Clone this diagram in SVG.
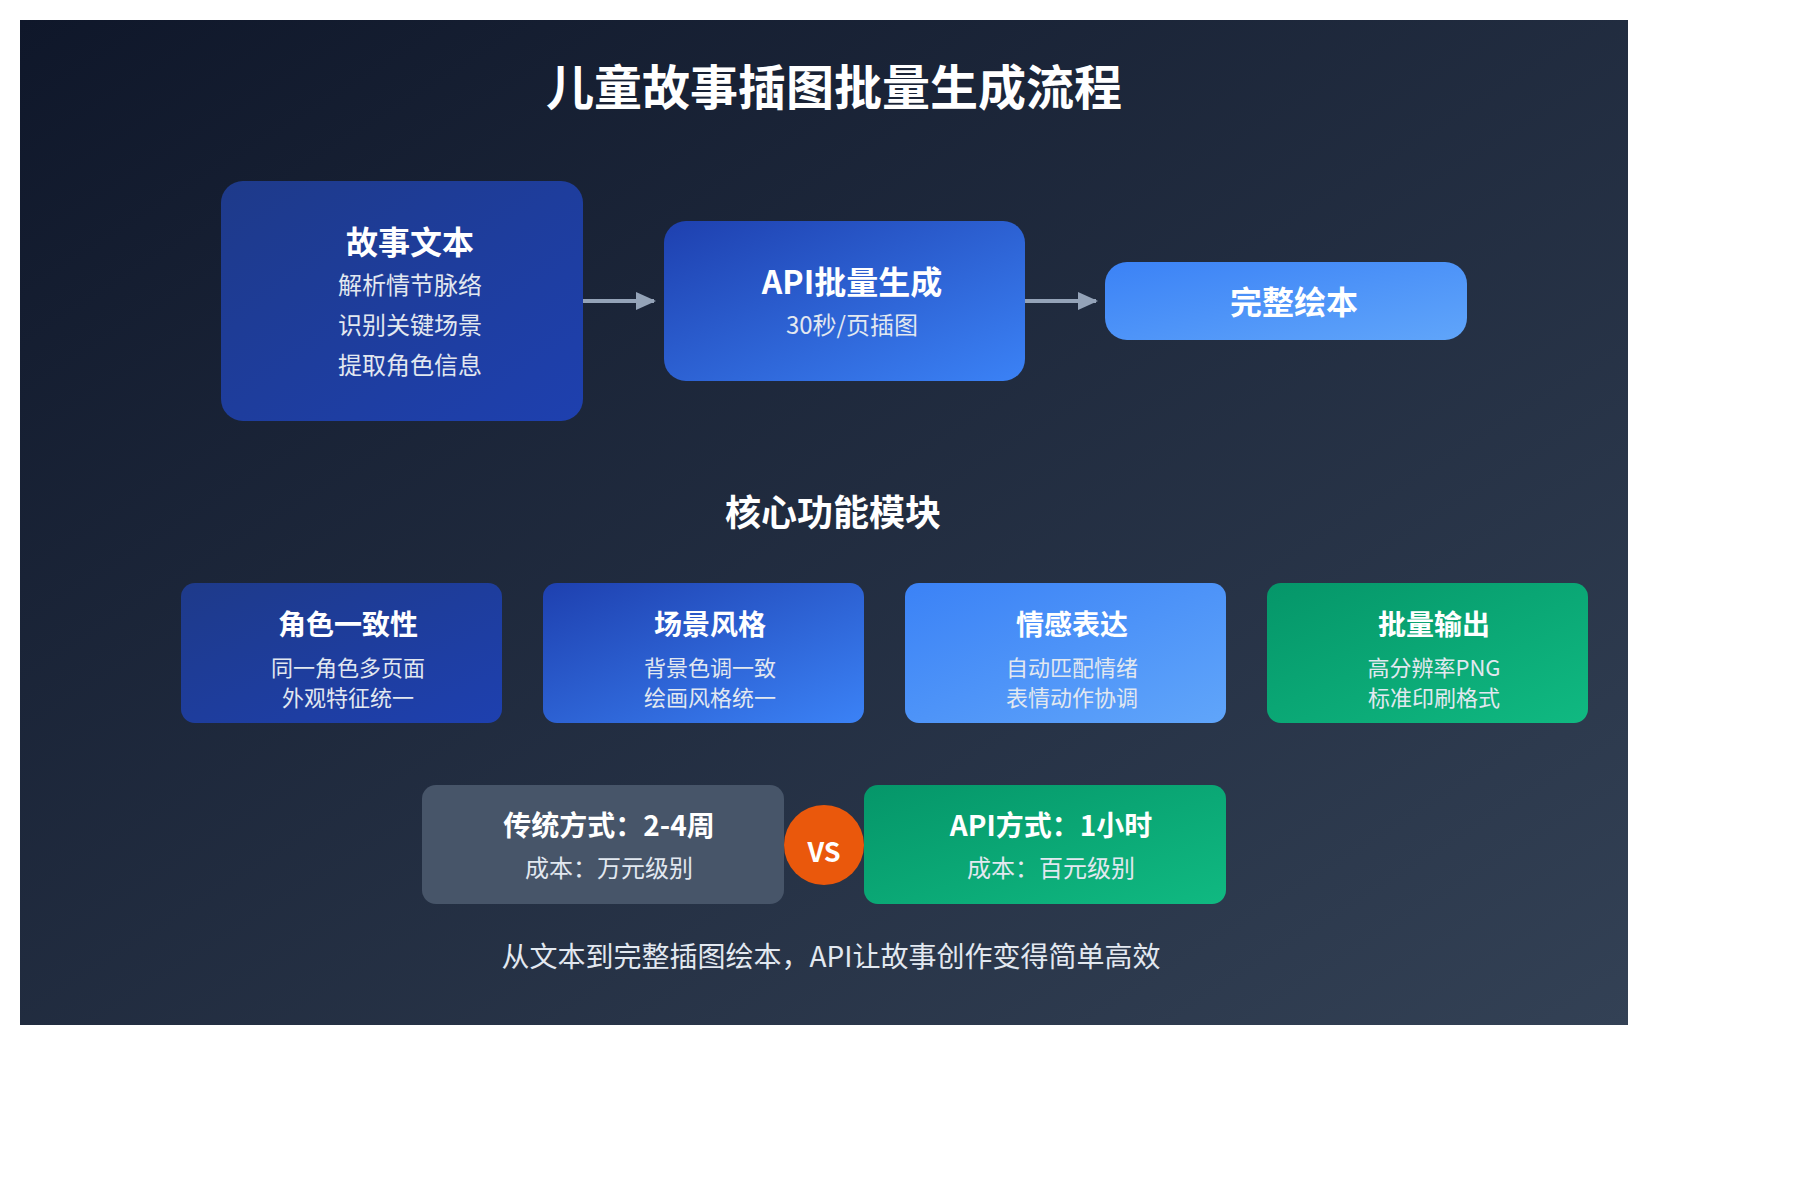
<svg xmlns="http://www.w3.org/2000/svg" width="1800" height="1180" viewBox="0 0 1800 1180">
<defs>
<linearGradient id="bg" x1="0" y1="0" x2="1" y2="1"><stop offset="0" stop-color="#0f172a"/><stop offset="1" stop-color="#334155"/></linearGradient>
<linearGradient id="g1" x1="0" y1="0" x2="1" y2="1"><stop offset="0" stop-color="#1e3a8a"/><stop offset="1" stop-color="#1e40af"/></linearGradient>
<linearGradient id="g2" x1="0" y1="0" x2="1" y2="1"><stop offset="0" stop-color="#1e40af"/><stop offset="1" stop-color="#3b82f6"/></linearGradient>
<linearGradient id="g3" x1="0" y1="0" x2="1" y2="1"><stop offset="0" stop-color="#3b82f6"/><stop offset="1" stop-color="#60a5fa"/></linearGradient>
<linearGradient id="g4" x1="0" y1="0" x2="1" y2="1"><stop offset="0" stop-color="#059669"/><stop offset="1" stop-color="#10b981"/></linearGradient>
<marker id="ah" markerWidth="20" markerHeight="20" refX="18" refY="10" orient="auto" markerUnits="userSpaceOnUse" viewBox="0 0 20 20"><path d="M0,1 L20,10 L0,19 z" fill="#94a3b8"/></marker>
</defs>
<style>
text{font-family:"Noto Sans CJK SC","Noto Sans",sans-serif;fill:#fff;text-anchor:middle;dominant-baseline:central}
.t{font-size:32px;font-weight:700}
.s{font-size:24px;fill:#e2e8f0}
.mt{font-size:28px;font-weight:700}
.ms{font-size:22px;fill:#e2e8f0}
.c{stroke:#94a3b8;stroke-width:4;fill:none;marker-end:url(#ah)}
</style>
<rect x="20" y="20" width="1608" height="1005" fill="url(#bg)"/>
<text x="834" y="84" style="font-size:48px;font-weight:700">儿童故事插图批量生成流程</text>
<g id="connectors">
<line class="c" x1="583" y1="301" x2="654" y2="301"/>
<line class="c" x1="1025" y1="301" x2="1096" y2="301"/>
</g>
<g id="n1"><rect x="221" y="181" width="362" height="240" rx="22" fill="url(#g1)"/>
<text class="t" x="410" y="240">故事文本</text><text class="s" x="410" y="283">解析情节脉络</text><text class="s" x="410" y="323">识别关键场景</text><text class="s" x="410" y="363">提取角色信息</text></g>
<g id="n2"><rect x="664" y="221" width="361" height="160" rx="22" fill="url(#g2)"/>
<text class="t" x="852" y="280">API批量生成</text><text class="s" x="852" y="323">30秒/页插图</text></g>
<g id="n3"><rect x="1105" y="262" width="362" height="78" rx="22" fill="url(#g3)"/>
<text class="t" x="1294" y="300">完整绘本</text></g>
<text x="833" y="510" style="font-size:36px;font-weight:700">核心功能模块</text>
<g id="m1"><rect x="181" y="583" width="321" height="140" rx="14" fill="url(#g1)"/><text class="mt" x="348" y="623">角色一致性</text><text class="ms" x="348" y="666">同一角色多页面</text><text class="ms" x="348" y="696">外观特征统一</text></g>
<g id="m2"><rect x="543" y="583" width="321" height="140" rx="14" fill="url(#g2)"/><text class="mt" x="710" y="623">场景风格</text><text class="ms" x="710" y="666">背景色调一致</text><text class="ms" x="710" y="696">绘画风格统一</text></g>
<g id="m3"><rect x="905" y="583" width="321" height="140" rx="14" fill="url(#g3)"/><text class="mt" x="1072" y="623">情感表达</text><text class="ms" x="1072" y="666">自动匹配情绪</text><text class="ms" x="1072" y="696">表情动作协调</text></g>
<g id="m4"><rect x="1267" y="583" width="321" height="140" rx="14" fill="url(#g4)"/><text class="mt" x="1434" y="623">批量输出</text><text class="ms" x="1434" y="666">高分辨率PNG</text><text class="ms" x="1434" y="696">标准印刷格式</text></g>
<g id="old"><rect x="422" y="785" width="362" height="119" rx="14" fill="#475569"/><text class="mt" x="609" y="824">传统方式：2-4周</text><text class="s" x="609" y="866">成本：万元级别</text></g>
<g id="new"><rect x="864" y="785" width="362" height="119" rx="14" fill="url(#g4)"/><text class="mt" x="1051" y="824">API方式：1小时</text><text class="s" x="1051" y="866">成本：百元级别</text></g>
<g id="vs"><circle cx="824" cy="845" r="40" fill="#ea580c"/><text x="824" y="850" style="font-size:27px;font-weight:700">VS</text></g>
<text x="831" y="955" style="font-size:28px;fill:#e2e8f0">从文本到完整插图绘本，API让故事创作变得简单高效</text>
</svg>
